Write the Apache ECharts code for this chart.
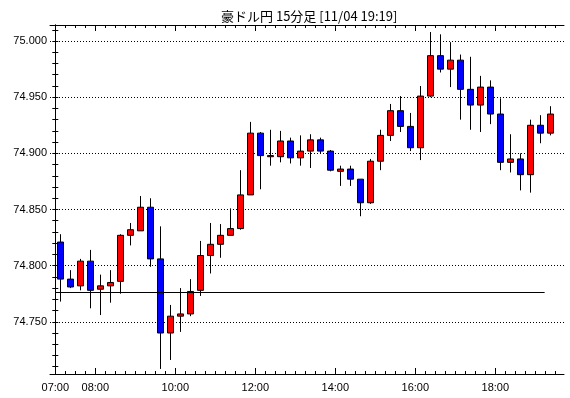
<!DOCTYPE html>
<html><head><meta charset="utf-8">
<script src="https://cdn.jsdelivr.net/npm/echarts@6/dist/echarts.min.js"></script>
<style>html,body{margin:0;padding:0;background:#fff}#c{width:570px;height:398px}</style>
</head><body><div id="c"></div>
<script>
const titleText = '豪ドル円 15分足 [11/04 19:19]';
const times = ['07:00','07:15','07:30','07:45','08:00','08:15','08:30','08:45','09:00','09:15',
  '09:30','09:45','10:00','10:15','10:30','10:45','11:00','11:15','11:30','11:45',
  '12:00','12:15','12:30','12:45','13:00','13:15','13:30','13:45','14:00','14:15',
  '14:30','14:45','15:00','15:15','15:30','15:45','16:00','16:15','16:30','16:45',
  '17:00','17:15','17:30','17:45','18:00','18:15','18:30','18:45','19:00','19:15'];
const open  = [74.821,74.788,74.782,74.804,74.779,74.782,74.786,74.827,74.831,74.852,
  74.806,74.740,74.755,74.757,74.778,74.809,74.819,74.827,74.833,74.863,
  74.918,74.897,74.897,74.911,74.896,74.902,74.912,74.902,74.884,74.886,
  74.877,74.856,74.893,74.916,74.938,74.924,74.905,74.951,74.987,74.975,
  74.983,74.957,74.943,74.959,74.935,74.892,74.895,74.881,74.925,74.918];
const close = [74.788,74.781,74.804,74.778,74.782,74.785,74.827,74.832,74.852,74.806,
  74.740,74.755,74.757,74.777,74.809,74.819,74.827,74.833,74.863,74.918,
  74.898,74.898,74.911,74.896,74.902,74.912,74.902,74.885,74.886,74.877,
  74.856,74.893,74.916,74.938,74.924,74.905,74.951,74.987,74.975,74.983,
  74.957,74.943,74.959,74.935,74.892,74.895,74.881,74.925,74.918,74.935];
const low   = [74.768,74.780,74.778,74.762,74.756,74.767,74.775,74.818,74.831,74.799,
  74.708,74.716,74.741,74.755,74.773,74.793,74.807,74.827,74.832,74.863,
  74.868,74.889,74.892,74.891,74.889,74.887,74.900,74.884,74.871,74.871,
  74.844,74.855,74.885,74.911,74.919,74.902,74.894,74.950,74.972,74.959,
  74.930,74.921,74.919,74.926,74.885,74.883,74.867,74.865,74.909,74.916];
const high  = [74.828,74.796,74.806,74.814,74.792,74.796,74.828,74.838,74.862,74.860,
  74.835,74.765,74.780,74.788,74.822,74.838,74.837,74.851,74.885,74.928,
  74.919,74.921,74.920,74.914,74.916,74.917,74.914,74.903,74.889,74.889,
  74.877,74.895,74.921,74.944,74.951,74.936,74.960,75.008,75.006,74.999,
  74.988,74.986,74.969,74.965,74.949,74.917,74.900,74.930,74.934,74.942];
const xTickLabels = ['07:00','08:00','10:00','12:00','14:00','16:00','18:00'];
const xMajorTicks = ['08:00','10:00','12:00','14:00','16:00','18:00'];
const yTickLabels = [74.750, 74.800, 74.850, 74.900, 74.950, 75.000];
const yMinorTicks = [74.710,74.720,74.730,74.740,74.750,74.760,74.770,74.780,74.790,74.800,
  74.810,74.820,74.830,74.840,74.850,74.860,74.870,74.880,74.890,74.900,
  74.910,74.920,74.930,74.940,74.950,74.960,74.970,74.980,74.990,75.000,75.010];
const refLevel = 74.776;
const refFrom = '07:00', refTo = '19:14';

// time -> bar units (15 minutes) from 07:00
function toU(t){ const p = t.split(':'); return ((+p[0])*60 + (+p[1]) - 420) / 15; }
const xMin = -0.53, xMax = 50.87;
const yMin = 74.7035, yMax = 75.0143;
const xMinorTicks = [];
for (let i = 0; i <= 50; i++) xMinorTicks.push(i);

const candles = times.map((t, i) => [toU(t) + 0.5, open[i], close[i], low[i], high[i]]);
const fontBase = '"Liberation Sans", Arial, sans-serif';

function xAx(pos, ticks, len, withLine, withLabels){
  return {
    type: 'value', position: pos, min: xMin, max: xMax,
    axisLine: {show: withLine, lineStyle: {color: '#000', width: 1}},
    axisTick: {show: true, inside: true, length: len, customValues: ticks, lineStyle: {color: '#000', width: 1}},
    axisLabel: withLabels ? {
      show: true, customValues: xTickLabels.map(toU), color: '#000', fontSize: 11,
      fontFamily: fontBase, margin: 8,
      formatter: v => { const k = xTickLabels.find(l => Math.abs(toU(l) - v) < 1e-6); return k || ''; }
    } : {show: false},
    splitLine: {show: false}
  };
}
function yAx(pos, opts){
  return Object.assign({
    type: 'value', position: pos, min: yMin, max: yMax,
    axisLine: {show: false, lineStyle: {color: '#000', width: 1}},
    axisTick: {show: false},
    axisLabel: {show: false},
    splitLine: {show: false}
  }, opts);
}

const chart = echarts.init(document.getElementById('c'), null, {renderer: 'canvas'});
chart.setOption({
  animation: false,
  backgroundColor: '#fff',
  title: {
    text: titleText, left: 216, top: 5,
    textStyle: {color: '#000', fontSize: 13, fontWeight: 'normal', fontFamily: '"Noto Sans CJK JP", sans-serif'}
  },
  grid: {left: 50, right: 6, top: 25, bottom: 24, containLabel: false},
  xAxis: [
    xAx('bottom', xMinorTicks, 3, true, true),
    xAx('bottom', xMajorTicks.map(toU), 6, false, false),
    xAx('top', xMinorTicks, 3, true, false),
    xAx('top', xMajorTicks.map(toU), 6, false, false)
  ],
  yAxis: [
    yAx('left', {
      axisLine: {show: true, lineStyle: {color: '#000', width: 1}},
      axisTick: {show: true, inside: true, length: 3, customValues: yMinorTicks, lineStyle: {color: '#000'}},
      axisLabel: {show: true, customValues: yTickLabels, formatter: v => v.toFixed(3),
        color: '#000', fontSize: 11, fontFamily: fontBase, margin: 3}
    }),
    yAx('left', {
      axisTick: {show: false, customValues: yTickLabels},
      splitLine: {show: true, lineStyle: {color: '#000', width: 1, type: [1, 2]}}
    }),
    yAx('right', {
      axisLine: {show: true, lineStyle: {color: '#000', width: 1}},
      axisTick: {show: true, inside: true, length: 3, customValues: yMinorTicks, lineStyle: {color: '#000'}}
    })
  ],
  series: [{
    type: 'candlestick', xAxisIndex: 0, yAxisIndex: 0,
    data: candles,
    encode: {x: 0, y: [1, 2, 3, 4]},
    barWidth: 6,
    itemStyle: {color: '#ff0000', color0: '#0000ff', borderColor: '#000', borderColor0: '#000', borderColorDoji: '#000', borderWidth: 1},
    emphasis: {disabled: true},
    markLine: {
      silent: true, symbol: 'none', animation: false,
      label: {show: false},
      lineStyle: {color: '#000', type: 'solid', width: 1},
      data: [[{coord: [toU(refFrom), refLevel]}, {coord: [toU(refTo), refLevel]}]]
    }
  }]
});
</script>
</body></html>
